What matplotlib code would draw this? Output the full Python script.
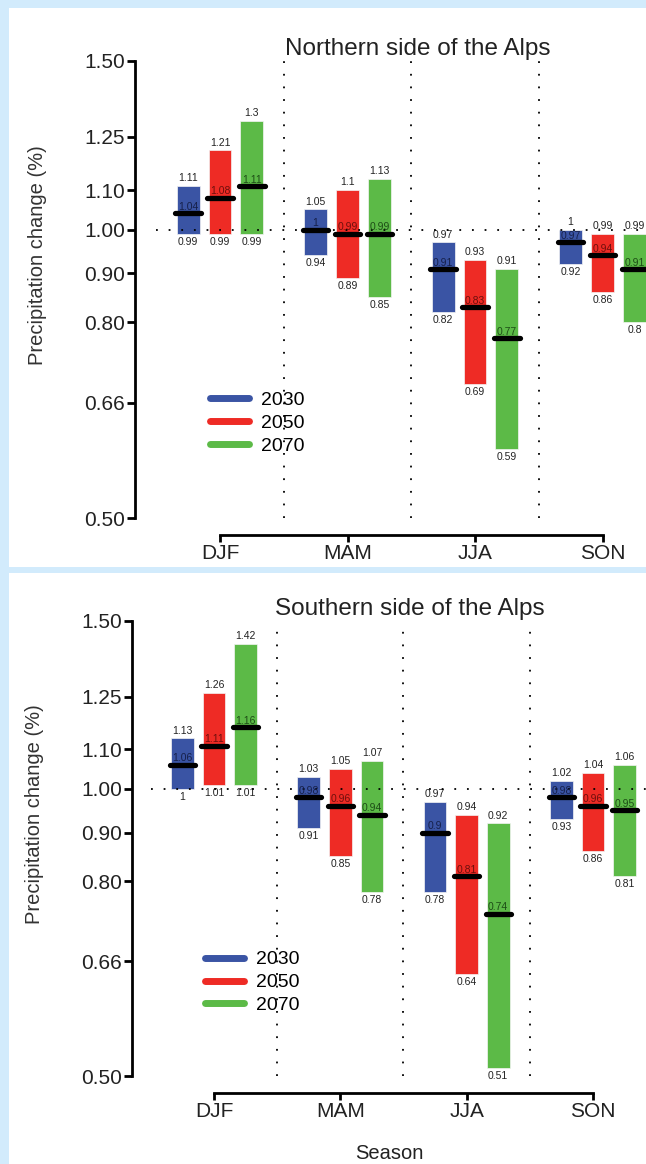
import numpy as np
import matplotlib
matplotlib.use('Agg')
import matplotlib.pyplot as plt
from matplotlib.lines import Line2D
from matplotlib.patches import Rectangle

plt.rcParams['font.family'] = ['Liberation Sans', 'DejaVu Sans']

seasons = ['DJF', 'MAM', 'JJA', 'SON']
years = ['2030', '2050', '2070']
colors = ['#3a54a4', '#ee2b25', '#5cba47']
mid_colors = ['#16204a', '#6e0f0c', '#1d4d16']

# Northern side: [season][year]
north_hi = [[1.11, 1.21, 1.3], [1.05, 1.1, 1.13], [0.97, 0.93, 0.91], [1.0, 0.99, 0.99]]
north_med = [[1.04, 1.08, 1.11], [1.0, 0.99, 0.99], [0.91, 0.83, 0.77], [0.97, 0.94, 0.91]]
north_lo = [[0.99, 0.99, 0.99], [0.94, 0.89, 0.85], [0.82, 0.69, 0.59], [0.92, 0.86, 0.8]]

# Southern side
south_hi = [[1.13, 1.26, 1.42], [1.03, 1.05, 1.07], [0.97, 0.94, 0.92], [1.02, 1.04, 1.06]]
south_med = [[1.06, 1.11, 1.16], [0.98, 0.96, 0.94], [0.9, 0.81, 0.74], [0.98, 0.96, 0.95]]
south_lo = [[1.0, 1.01, 1.01], [0.91, 0.85, 0.78], [0.78, 0.64, 0.51], [0.93, 0.86, 0.81]]

yticks = [0.50, 0.66, 0.80, 0.90, 1.00, 1.10, 1.25, 1.50]

W, H = 646, 1164
fig = plt.figure(figsize=(W / 100, H / 100), dpi=100)
fig.patch.set_facecolor('#d2ebfc')
fig.add_artist(Rectangle((9 / W, 1 - 567 / H), 1, 559 / H, transform=fig.transFigure,
                         facecolor='white', edgecolor='none', zorder=-10))
fig.add_artist(Rectangle((9 / W, 0), 1, 1 - 573 / H, transform=fig.transFigure,
                         facecolor='white', edgecolor='none', zorder=-10))


def fmt(v):
    return '{:g}'.format(v)


def panel(rect, xlim, title, hi, med, lo, leg_anchor, title_x, xlabel=None):
    ax = fig.add_axes(rect)
    ax.patch.set_alpha(0)
    ax.set_yscale('log')
    ax.set_ylim(0.5, 1.5)
    ax.set_xlim(*xlim)

    offs = [-0.25, 0.0, 0.25]
    bw = 0.18
    for i in range(len(seasons)):
        for j in range(len(years)):
            x = i + offs[j]
            ax.bar(x, hi[i][j] - lo[i][j], bottom=lo[i][j], width=bw,
                   color=colors[j], edgecolor='#f4f4f4', linewidth=0.5, zorder=2)
            ax.plot([x - 0.1, x + 0.1], [med[i][j]] * 2, color='black', lw=3.8,
                    solid_capstyle='round', zorder=4)
            ax.annotate(fmt(hi[i][j]), (x, hi[i][j]), xytext=(0, 2), textcoords='offset points',
                        ha='center', va='bottom', fontsize=7.5, color='#222222')
            ax.annotate(fmt(lo[i][j]), (x, lo[i][j]), xytext=(0, -2), textcoords='offset points',
                        ha='center', va='top', fontsize=7.5, color='#222222')
            ax.annotate(fmt(med[i][j]), (x, med[i][j]), xytext=(0, 1), textcoords='offset points',
                        ha='center', va='bottom', fontsize=7.5, color=mid_colors[j], zorder=5)

    ax.plot([-0.5, 3.6], [1, 1], color='black', lw=1.3, ls=(0, (1, 6)), zorder=3)
    for xv in [0.5, 1.5, 2.5]:
        ax.plot([xv, xv], [0.5, 1.5], color='black', lw=1.3, ls=(0, (1, 6)), zorder=1)

    for s in ['top', 'right']:
        ax.spines[s].set_visible(False)
    ax.spines['left'].set_linewidth(2)
    ax.spines['bottom'].set_linewidth(2)
    ax.spines['bottom'].set_bounds(0, 3)
    ax.spines['bottom'].set_position(('outward', 12))

    ax.set_yticks(yticks)
    ax.set_yticklabels(['{:.2f}'.format(t) for t in yticks])
    ax.yaxis.set_minor_locator(matplotlib.ticker.NullLocator())
    ax.tick_params(axis='y', which='major', length=6, width=2, labelsize=15, pad=1,
                   labelcolor='#222222')
    ax.set_xticks(range(len(seasons)))
    ax.set_xticklabels(seasons)
    ax.tick_params(axis='x', length=5, width=2, labelsize=15, pad=2, labelcolor='#222222')

    ax.set_ylabel('Precipitation change (%)', fontsize=14.5, color='#333333')
    ax.yaxis.set_label_coords(-0.172, 0.575)
    if xlabel:
        ax.set_xlabel(xlabel, fontsize=14.5, color='#222222', labelpad=16)

    ax.set_title(title, fontsize=17.5, color='#222222', pad=4, x=title_x)

    handles = [Line2D([0], [0], color=c, lw=5, solid_capstyle='round') for c in colors]
    ax.legend(handles, years, loc='upper left', bbox_to_anchor=leg_anchor, frameon=False,
              fontsize=14, handlelength=2.0, handletextpad=0.6, labelspacing=0.27,
              borderpad=0, borderaxespad=0)
    return ax


# top panel: spine at x=135 px, DJF at 220 px, 127.5 px per season
top_rect = [135 / W, 1 - 518 / H, (W - 135) / W, (518 - 61) / H]
top_xlim = ((135 - 220) / 127.5, (W - 220) / 127.5)
panel(top_rect, top_xlim, 'Northern side of the Alps', north_hi, north_med, north_lo,
      (0.147, 0.277), 0.553)

bot_rect = [132 / W, 1 - 1076 / H, (W - 132) / W, (1076 - 621) / H]
bot_xlim = ((132 - 214) / 126.3, (W - 214) / 126.3)
panel(bot_rect, bot_xlim, 'Southern side of the Alps', south_hi, south_med, south_lo,
      (0.142, 0.275), 0.54, xlabel='Season')

fig.savefig('out.png', dpi=100, facecolor=fig.get_facecolor())
